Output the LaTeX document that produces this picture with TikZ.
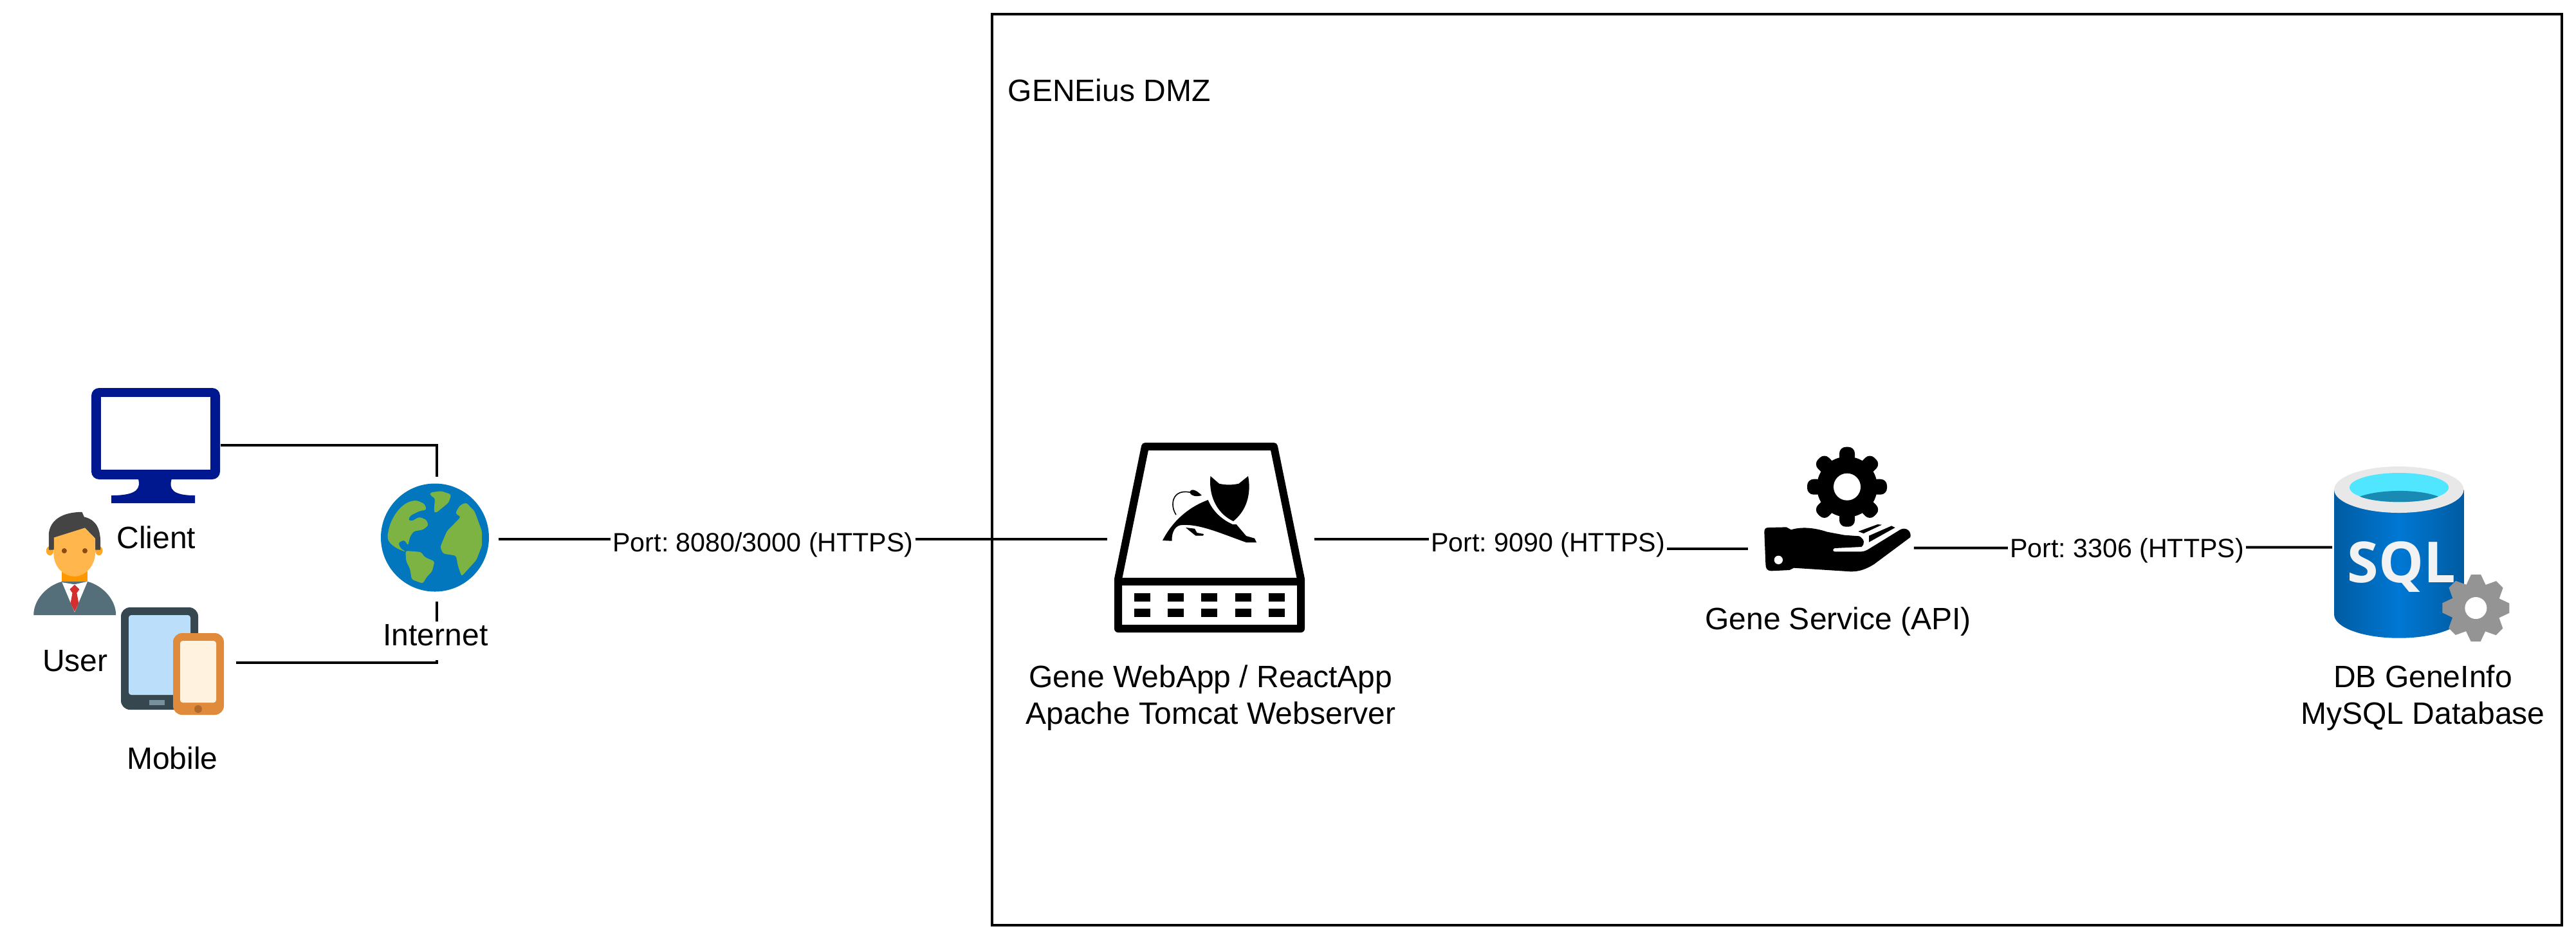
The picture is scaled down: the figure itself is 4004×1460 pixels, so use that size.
\documentclass[tikz,border=0pt]{standalone}
\usepackage{fontspec}
\setmainfont{Liberation Sans}
\newfontfamily\sqlfont{Open Sans}
\usepackage{tikz}
\usepackage{xcolor}
\definecolor{navy}{RGB}{0,24,143}
\definecolor{hairgrey}{RGB}{68,68,68}
\definecolor{skin}{RGB}{255,183,77}
\definecolor{skindark}{RGB}{255,167,38}
\definecolor{neck}{RGB}{255,152,0}
\definecolor{suit}{RGB}{84,110,122}
\definecolor{tiered}{RGB}{211,47,47}
\definecolor{eyebrown}{RGB}{138,75,23}
\definecolor{oceanblue}{RGB}{2,119,189}
\definecolor{landgreen}{RGB}{124,179,66}
\definecolor{slate}{RGB}{55,71,79}
\definecolor{skyscreen}{RGB}{187,222,251}
\definecolor{slatelight}{RGB}{120,144,156}
\definecolor{phoneorange}{RGB}{224,138,60}
\definecolor{cream}{RGB}{255,243,224}
\definecolor{phonebutton}{RGB}{176,106,44}
\definecolor{sqlblue}{RGB}{0,120,212}
\definecolor{sqldark}{RGB}{0,91,161}
\definecolor{sqlrim}{RGB}{232,232,232}
\definecolor{sqlcyan}{RGB}{80,230,255}
\definecolor{sqlwater}{RGB}{25,138,179}
\definecolor{sqltext}{RGB}{242,242,242}
\definecolor{geargrey}{RGB}{148,148,148}
\tikzset{%
    iconbox/.style 2 args={%
        draw=none, inner sep=0pt, minimum width=#1*0.25pt, minimum height=#2*0.25pt
    },
    caption/.style={%
        font=\fontsize{12}{14.2}\selectfont, align=center, inner sep=0pt, anchor=base
    },
    whitelabel/.style={%
        caption, fill=white, inner xsep=0.75pt,
        text height=9.25pt, text depth=5.75pt
    },
    portlabel/.style={%
        whitelabel, font=\fontsize{10.3}{12}\selectfont
    },
    link/.style={line width=1pt}
}

\begin{document}
\frenchspacing
\begin{tikzpicture}[x=0.25pt,y=-0.25pt]
    \useasboundingbox (0,0) rectangle (4004,1460);

    \draw[line width=1pt] (1542,22) rectangle (3982,1438);
    \node[caption,anchor=base west] (dmz) at (1566,157) {GENEius DMZ};

    % places of the pictures, the connectors end on these
    \node[iconbox={200}{180}] (client) at (242,692) {};
    \node[iconbox={196}{196}] (mobile) at (268,1030) {};
    \node[iconbox={192}{192}] (internet) at (678.5,838) {};
    \node[iconbox={320}{320}] (webapp) at (1882,838) {};
    \node[iconbox={256}{256}] (api) at (2846,853) {};
    \node[iconbox={200}{200}] (db) at (3726,850.7) {};

    % connectors
    \draw[link] (client.east) -| (internet.north);
    \draw[link] (mobile.east) -| (internet.south);
    \draw[link] (internet.east) -- (webapp.west);
    \coordinate (bendweb) at (2406,838);
    \draw[link] (webapp.east) -- (bendweb) -- (bendweb |- api.west) -- (api.west);
    \coordinate (bendapi) at (3306,851.7);
    \draw[link] ([yshift=0.325pt]api.east) -- (bendapi) -- (bendapi |- db.west) -- (db.west);

    % monitor
    \fill[navy,rounded corners=3pt] (142,603) rectangle (342,745);
    \fill[white] (157,617) rectangle (327,730);
    \fill[navy] (215,744) .. controls (218,758) and (216,770) .. (173,770) -- (173,782) -- (303,782)
        -- (303,770) .. controls (268,770) and (262,760) .. (267,744) -- cycle;

    % user
    \begin{scope}[shift={(0,540)},xscale=0.574,yscale=0.4464]
        \fill[skindark] (135,708) ellipse (10 and 16);
        \fill[skindark] (268,708) ellipse (10 and 16);
        \fill[hairgrey] (132,705) -- (132,650) .. controls (135,600) and (170,573) .. (222,573) -- (228,590)
            .. controls (260,600) and (272,630) .. (272,680) -- (272,705) -- cycle;
        \fill[neck] (167,770) rectangle (237,825);
        \fill[skin] (146,662) -- (230,628) -- (258,665) -- (258,700)
            .. controls (262,760) and (230,797) .. (202,797)
            .. controls (170,797) and (140,760) .. (146,700) -- cycle;
        \fill[eyebrown] (174,708) ellipse (7 and 9);
        \fill[eyebrown] (230,708) ellipse (7 and 9);
        \fill[suit] (91,932) .. controls (91,880) and (125,830) .. (168,815) -- (237,815)
            .. controls (280,830) and (314,880) .. (314,932) -- cycle;
        \fill[white] (168,818) -- (202,825) -- (237,815) -- (202,922) -- cycle;
        \fill[tiered] (202,826) -- (215,842) -- (208,855) -- (213,890) -- (202,920)
            -- (191,890) -- (196,855) -- (189,842) -- cycle;
    \end{scope}

    % tablet and phone
    \fill[slate,rounded corners=3.5pt] (188,944) rectangle (308,1103);
    \fill[skyscreen,rounded corners=1pt] (200,956) rectangle (296,1080);
    \fill[slatelight] (232,1088) rectangle (256,1096);
    \fill[phoneorange,rounded corners=3.5pt] (269,984) rectangle (348,1111);
    \fill[cream,rounded corners=1pt] (280,996) rectangle (336,1092);
    \fill[phonebutton] (308,1102) circle (6);

    % globe
    \fill[oceanblue] (676,835.5) circle (84);
    \begin{scope}[shift={(0,540)},xscale=0.574,yscale=0.4464,rounded corners=0.8pt,landgreen]
        \fill (1050,655) .. controls (1055,600) and (1085,535) .. (1130,533) -- (1150,545) -- (1155,565)
            -- (1135,570) -- (1112,585) -- (1105,600) -- (1115,605) -- (1135,590) -- (1155,600)
            -- (1160,620) -- (1145,635) -- (1120,640) -- (1110,660) -- (1105,690) -- (1095,670)
            -- (1078,680) -- (1085,700) -- (1100,712) .. controls (1070,700) and (1050,680) .. (1050,655) -- cycle;
        \fill (1098,708) -- (1140,712) -- (1150,730) -- (1177,745) -- (1170,780) -- (1155,800)
            -- (1145,822) -- (1115,808) -- (1110,770) -- (1100,745) -- cycle;
        \fill (1165,505) -- (1195,500) -- (1222,512) -- (1215,540) -- (1180,577) -- (1175,570)
            -- (1178,525) -- (1165,515) -- cycle;
        \fill (1262,540) -- (1285,570) -- (1305,640) -- (1305,690) -- (1290,740) -- (1250,797)
            -- (1240,760) -- (1235,725) -- (1200,718) -- (1192,695) -- (1210,640) -- (1248,590)
            -- (1233,578) -- (1245,550) -- cycle;
    \end{scope}

    % tomcat server
    \draw[line width=3pt,line join=round,fill=white] (1780,694) -- (1980,694) -- (2022,900)
        -- (2022,977) -- (1738,977) -- (1738,900) -- cycle;
    \draw[line width=3pt] (1738,903.5) -- (2022,903.5);
    \foreach \x in {1763,1815,1867,1920,1972}
    {
    \fill (\x,922) rectangle ++(25,13);
    \fill (\x,946) rectangle ++(25,13);
    }
    \fill (1881.5,740) -- (1895,751.7) .. controls (1905,754) and (1915,754) .. (1925.5,751.7) -- (1940,740)
        .. controls (1944,760) and (1942,790) .. (1917,810) .. controls (1895,800) and (1878,775) .. (1881.5,740) -- cycle;
    \fill (1877.7,777) .. controls (1853,786) and (1825,805) .. (1807,840) -- (1821.5,840.7)
        .. controls (1821,825) and (1828,816) .. (1837.5,816) .. controls (1865,814) and (1900,830) .. (1937,843)
        -- (1953,843) -- (1950,836.7) -- (1937,833) -- (1921.7,815) -- (1916,815)
        .. controls (1900,808) and (1885,795) .. (1877.7,777) -- cycle;
    \draw[line width=0.4pt] (1828,800) .. controls (1818,785) and (1822,760) .. (1849,765);
    \fill (1849,765) .. controls (1852,758) and (1860,762) .. (1868,770) .. controls (1860,772) and (1852,772) .. (1849,765) -- cycle;
    \fill (1843,820) -- (1857,821.7) -- (1860.5,828) -- (1871,830) -- (1870,832.7) -- (1858.6,832.7) -- (1851,826.7) -- cycle;

    % gear above the hand
    \fill (2871,756.7) circle (47);
    \foreach \a in {0,45,...,315}
    {
    \fill[rotate around={\a:(2871,756.7)},rounded corners=2.5pt] (2859,720) rectangle (2883,694.7);
    }
    \fill[white] (2871,756.7) circle (21);

    % hand
    \begin{scope}[shift={(2600,650)},scale=1/3]
        \fill (427,530) .. controls (427,515) and (435,510) .. (445,510) -- (530,508) -- (552,520)
            .. controls (600,505) and (660,510) .. (720,530) -- (800,545) -- (870,550)
            .. controls (895,565) and (897,585) .. (880,600) -- (755,606)
            .. controls (745,610) and (745,620) .. (755,622) -- (880,622)
            .. controls (905,620) and (920,605) .. (930,600) -- (1060,520)
            .. controls (1085,505) and (1115,525) .. (1108,555)
            -- (940,680) .. controls (900,705) and (870,715) .. (830,715) -- (565,698)
            -- (545,708) -- (460,712) .. controls (440,712) and (433,700) .. (433,680) -- cycle;
        \fill[white] (493,661) circle (20);
        \fill (865,528) -- (955,495) -- (975,497) -- (890,537) -- cycle;
        \fill (915,548) -- (1020,502) -- (1037,510) -- (915,578) -- cycle;
    \end{scope}

    % database
    \path[left color=sqldark,right color=sqldark,middle color=sqlblue]
        (3628,761) -- (3628,955) arc[start angle=180,end angle=0,x radius=100.7,y radius=36.7]
        -- (3829.4,761) -- cycle;
    \fill[sqlrim] (3728.7,761) ellipse (100.7 and 36);
    \fill[sqlcyan] (3729,757.7) ellipse (77 and 22.7);
    \fill[sqlwater] (3668,771.7) .. controls (3700,760) and (3760,760) .. (3790,771.7)
        .. controls (3765,783) and (3695,783) .. (3668,771.7) -- cycle;
    \node[inner sep=0pt,anchor=base,text=sqltext,font=\sqlfont\bfseries\fontsize{22}{22}\selectfont] (sqlword) at (3733,905) {SQL};
    \fill[geargrey] (3848.3,945) circle (38);
    \foreach \a in {0,45,...,315}
    {
    \fill[geargrey,rotate around={\a:(3848.3,945)}] (3832,912) -- (3841,893) -- (3856,893) -- (3865,912) -- cycle;
    }
    \fill[white] (3848.3,945) circle (17);

    % texts
    \node[caption] (clientlabel) at (243,852) {Client};
    \node[caption] (userlabel) at (117,1043) {User};
    \node[caption] (mobilelabel) at (268,1195) {Mobile};
    \node[whitelabel] (internetlabel) at (677,1003) {Internet};
    \node[portlabel] (port8080) at (1186,857) {Port: 8080/3000 (HTTPS)};
    \node[portlabel] (port9090) at (2406,857) {Port: 9090 (HTTPS)};
    \node[portlabel] (port3306) at (3306,866) {Port: 3306 (HTTPS)};
    \node[caption] (webapplabel) at (1882,1125) {Gene WebApp / ReactApp\\Apache Tomcat Webserver};
    \node[caption] (apilabel) at (2857,978) {Gene Service (API)};
    \node[caption] (dblabel) at (3766,1125) {DB GeneInfo\\MySQL Database};
\end{tikzpicture}
\end{document}
